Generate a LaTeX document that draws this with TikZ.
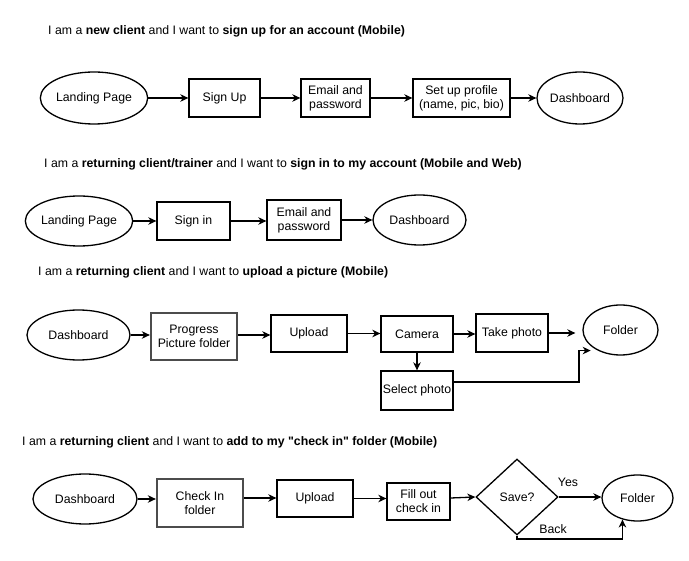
\documentclass[tikz,border=0pt]{standalone}
\usepackage{fontspec}
\setmainfont{Liberation Sans}
\usetikzlibrary{arrows.meta,shapes.geometric,calc}
\begin{document}
\begin{tikzpicture}[x=1pt,y=-1pt,
  every node/.style={font=\fontsize{12.3}{13.8}\selectfont, align=center, inner sep=0pt},
  title/.style={anchor=west, font=\fontsize{12.3}{14}\selectfont},
  box/.style n args={2}{draw, line width=1.3pt, rectangle, minimum width=#1, minimum height=#2},
  dbox/.style n args={2}{draw=black!70, line width=2.3pt, rectangle, minimum width=#1, minimum height=#2},
  elli/.style n args={2}{draw, line width=1.3pt, ellipse, minimum width=#1, minimum height=#2},
  conn/.style={line width=1.3pt, -{Stealth[length=8pt,width=7.5pt,inset=2.5pt]}},
  lbl/.style={font=\fontsize{12.3}{13.8}\selectfont}
]
\useasboundingbox[fill=white] (0,0) rectangle (689,561);

% titles
\node[title] (t1) at (48,31) {I am a \textbf{new client} and I want to \textbf{sign up for an account (Mobile)}};
\node[title] (t2) at (44,164) {I am a \textbf{returning client/trainer} and I want to \textbf{sign in to my account (Mobile and Web)}};
\node[title] (t3) at (38,272) {I am a \textbf{returning client} and I want to \textbf{upload a picture (Mobile)}};
\node[title] (t4) at (22,442) {I am a \textbf{returning client} and I want to \textbf{add to my \textquotedbl check in\textquotedbl\ folder (Mobile)}};

% row 1
\node[elli={104}{52}] (L1) at (94,98) {Landing Page};
\node[box={71}{38}] (S1) at (224.5,98) {Sign Up};
\node[box={69}{38}] (E1) at (335.5,98) {Email and\\password};
\node[box={97}{38}] (P1) at (461.5,98) {Set up profile\\(name, pic, bio)};
\node[elli={86}{52}] (D1) at (580,98) {Dashboard};
\draw[conn] (L1.east) -- (L1.east -| S1.west);
\draw[conn] (S1.east) -- (S1.east -| E1.west);
\draw[conn] (E1.east) -- (E1.east -| P1.west);
\draw[conn] (P1.east) -- (P1.east -| D1.west);

% row 2
\node[elli={104}{50}] (L2) at (79,221) {Landing Page};
\node[box={73}{38}] (S2) at (193.5,221) {Sign in};
\node[box={74}{40}] (E2) at (304,220) {Email and\\password};
\node[elli={93}{50}] (D2) at (419.5,220) {Dashboard};
\draw[conn] (L2.east) -- (L2.east -| S2.west);
\draw[conn] (S2.east) -- (S2.east -| E2.west);
\draw[conn] (E2.east) -- (E2.east -| D2.west);

% row 3
\node[elli={103}{50}] (D3) at (78.5,335) {Dashboard};
\node[dbox={86}{47}] (P3) at (194,336.5) {Progress\\Picture folder};
\node[box={76}{37}] (U3) at (309,333.5) {Upload};
\node[box={72}{36}] (C3) at (417,334) {Camera};
\node[box={72}{38}] (T3) at (512,333) {Take photo};
\node[elli={75}{50}] (F3) at (620.5,330) {Folder};
\node[box={72}{39}] (SP3) at (417,390.5) {Select photo};
\coordinate (p3o) at ([yshift=1.5pt]P3.east);
\draw[conn] (D3.east) -- (D3.east -| P3.west);
\draw[conn] (p3o) -- (p3o -| U3.west);
\draw[conn] (U3.east) -- (U3.east -| C3.west);
\draw[conn] (C3.east) -- (C3.east -| T3.west);
\draw[conn, shorten >=7pt] (T3.east) -- (T3.east -| F3.west);
\draw[conn] (C3.south) -- (SP3.north);
\coordinate (sp) at ([yshift=8.5pt]SP3.east);
\coordinate (bend) at (579,0);
\draw[conn, shorten >=7pt] (sp) -- (sp -| bend) |- (F3.222);

% row 4
\node[elli={104}{50}] (D4) at (85,499) {Dashboard};
\node[dbox={86}{48}] (CI4) at (200,503) {Check In\\folder};
\node[box={76}{37}] (U4) at (315,498.5) {Upload};
\node[box={63}{37}] (FO4) at (418.5,501.5) {Fill out\\check in};
\node[draw, line width=1.3pt, diamond, minimum width=82, minimum height=76] (SV4) at (517,497) {Save?};
\node[elli={71}{46}] (FD4) at (637.5,498) {Folder};
\node[lbl] (yes) at (568,482) {Yes};
\node[lbl] (back) at (553,529) {Back};
\coordinate (ci4o) at ([yshift=5pt]CI4.east);
\coordinate (fo4o) at ([yshift=3.5pt]FO4.east);
\draw[conn] (D4.east) -- (D4.east -| CI4.west);
\draw[conn] (ci4o) -- (ci4o -| U4.west);
\draw[conn] (U4.east) -- (U4.east -| FO4.west);
\draw[conn] (fo4o) -- (SV4.west);
\draw[conn] (SV4.east) -- (SV4.east -| FD4.west);
\coordinate (bk) at (0,539);
\draw[conn] (SV4.south) -- (SV4.south |- bk) -| (FD4.235);
\end{tikzpicture}
\end{document}
